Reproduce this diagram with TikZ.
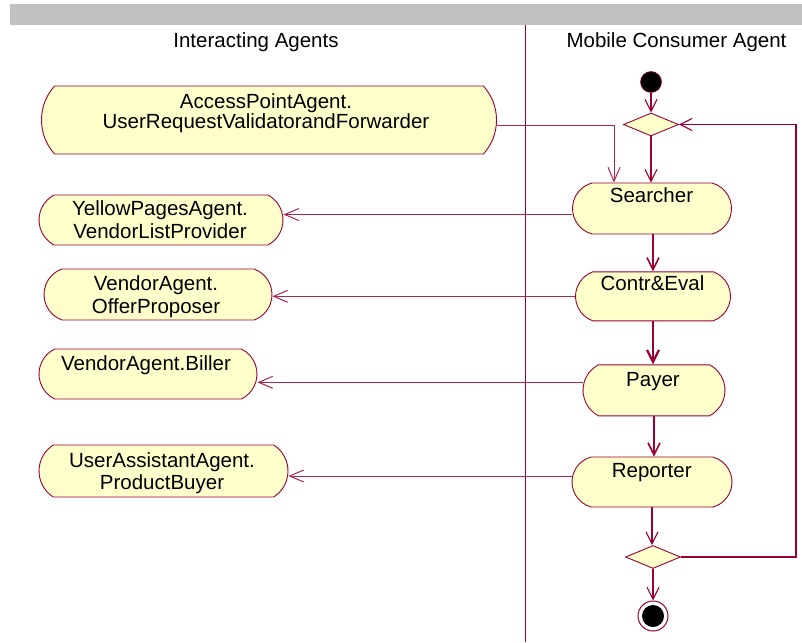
\documentclass[tikz,border=0pt]{standalone}
\usepackage{fontspec}
\setmainfont{Liberation Sans}
\usetikzlibrary{shapes.misc,shapes.geometric,arrows.meta,calc}
\definecolor{uml}{RGB}{153,0,51}
\definecolor{actfill}{RGB}{255,255,204}
\definecolor{band}{RGB}{192,192,192}
\tikzset{
  act/.style={rounded rectangle, draw=uml, fill=actfill, line width=0.9pt, inner sep=0pt},
  lbl/.style={inner sep=0pt, anchor=north, align=center, text=black, font=\fontsize{20.5}{23}\selectfont},
  flow/.style={draw=uml, line width=1.1pt, -{Straight Barb[length=12pt,width=12pt]}},
  flowmid/.style={flow, line width=1.6pt},
  flowthick/.style={flow, line width=2.2pt},
  flowthin/.style={draw=uml!85, line width=1pt, -{Straight Barb[length=14pt,width=12pt]}},
  dec/.style={diamond, draw=uml, fill=actfill, line width=0.9pt, inner sep=0pt, minimum width=55pt, minimum height=23pt},
}
\begin{document}
\begin{tikzpicture}[x=1pt,y=-1pt]
\useasboundingbox (0,0) rectangle (802,642);
% header
\fill[band] (10,4) rectangle (802,25);
\coordinate (divtop) at (525.7,25);
\coordinate (divbot) at (525.7,642);
\draw[uml, line width=1pt] (divtop) -- (divbot);
\node[lbl] (h1) at (256,32.7) {Interacting Agents};
\node[lbl] (h2) at (676.5,32.7) {Mobile Consumer Agent};

% left activity states
\node[act, minimum width=455pt, minimum height=68pt, rounded rectangle arc length=84] (ap) at (269,120) {};
\node[act, minimum width=244pt, minimum height=50pt, rounded rectangle arc length=124] (yp) at (161,220) {};
\node[act, minimum width=228pt, minimum height=51pt, rounded rectangle arc length=140] (op) at (158,294.5) {};
\node[act, minimum width=218pt, minimum height=50pt, rounded rectangle arc length=128] (bi) at (148,374) {};
\node[act, minimum width=249pt, minimum height=52pt, rounded rectangle arc length=115] (ua) at (163.5,471) {};

\node[lbl, font=\fontsize{20.5}{19.7}\selectfont] (apT) at (266,93.3) {AccessPointAgent.\\UserRequestValidatorandForwarder};
\node[lbl] (ypT) at (160,200) {YellowPagesAgent.\\VendorListProvider};
\node[lbl] (opT) at (156,275) {VendorAgent.\\OfferProposer};
\node[lbl] (biT) at (146,355) {VendorAgent.Biller};
\node[lbl, font=\fontsize{20.5}{22.4}\selectfont] (uaT) at (162,452.5) {UserAssistantAgent.\\ProductBuyer};

% right activity states
\node[act, minimum width=159pt, minimum height=51pt, rounded rectangle arc length=150] (searcher) at (652,208.5) {};
\node[act, minimum width=155pt, minimum height=49pt, rounded rectangle arc length=140] (contr) at (653,296.3) {};
\node[act, minimum width=142pt, minimum height=51pt, rounded rectangle arc length=125] (payer) at (654,390.3) {};
\node[act, minimum width=160pt, minimum height=50pt, rounded rectangle arc length=150] (reporter) at (652,482) {};

\node[lbl] (searcherT) at (651.5,187.7) {Searcher};
\node[lbl] (contrT) at (652.5,275.7) {Contr\&Eval};
\node[lbl] (payerT) at (653,371.7) {Payer};
\node[lbl] (reporterT) at (651.7,462.7) {Reporter};

% control nodes
\node[circle, fill=black, draw=uml, line width=0.6pt, minimum size=21pt, inner sep=0pt] (start) at (651,82) {};
\node[dec] (d1) at (651,124.5) {};
\node[dec] (d2) at (653,557) {};
\node[circle, draw=uml, fill=white, line width=1pt, minimum size=30pt, inner sep=0pt] (end) at (653,616) {};
\node[circle, fill=black, minimum size=22pt, inner sep=0pt] (endin) at (end) {};

% flows
\draw[flow] (start.south) -- (d1.north);
\draw[flow] (d1.south) -- (d1.south |- searcher.north);
\draw[flowthin] ([yshift=-5pt]ap.east) -| ([xshift=-38pt]searcher.north);
\draw[flowmid] (contr.north |- searcher.south) -- (contr.north);
\draw[flowthick] (contr.south) -- (contr.south |- payer.north);
\draw[flowmid] (payer.south) -- (payer.south |- reporter.north);
\draw[flow] (reporter.south) -- (reporter.south |- d2.north);
\draw[flow] (d2.south) -- (end.north);
\coordinate (loop) at (796,557);
\draw[flow] (d2.east) -- (loop) |- (d1.east);

\draw[flowthin] ([yshift=-6pt]searcher.west) -- ([yshift=-6pt]searcher.west -| yp.east);
\draw[flowthin] (contr.west) -- (contr.west -| op.east);
\draw[flowthin] ([yshift=8pt]payer.west) -- ([yshift=8pt]payer.west -| bi.east);
\draw[flowthin] ([yshift=6pt]reporter.west) -- ([yshift=6pt]reporter.west -| ua.east);
\end{tikzpicture}
\end{document}
